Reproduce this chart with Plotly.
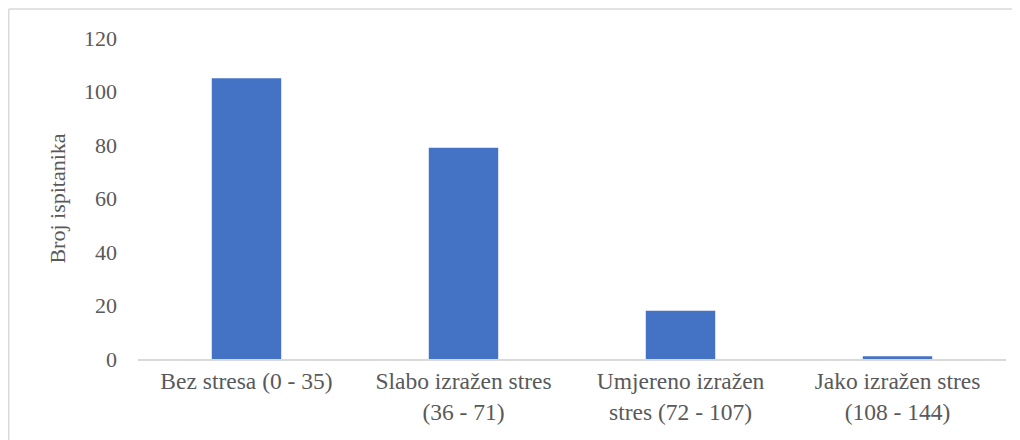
import plotly.graph_objects as go

categories = ["Bez stresa (0 - 35)", "Slabo izražen stres<br>(36 - 71)",
              "Umjereno izražen<br>stres (72 - 107)", "Jako izražen stres<br>(108 - 144)"]
values = [105, 79, 18, 1]
y_ticks = [0, 20, 40, 60, 80, 100, 120]

# page has an 8px body margin; compensate so the plot lands where the reference has it
OFF = 8
W, H = 1020, 440
L, R, T, B = 138 - OFF, 22, 38 - OFF, 89
pw, ph = W - L - R, H - T - B

def px(x):
    return (x - OFF - L) / pw

def py(y):
    return (H - B - (y - OFF)) / ph

fig = go.Figure(go.Bar(x=categories, y=values, marker_color="#4472C4",
                       marker_line_width=0, width=0.32))

font = dict(family="Liberation Serif", size=22, color="#595959")
xfont = dict(family="Liberation Serif", size=23.5, color="#595959")
fig.update_layout(
    width=W, height=H, margin=dict(l=L, r=R, t=T, b=B),
    paper_bgcolor="white", plot_bgcolor="white",
    font=font, showlegend=False,
    xaxis=dict(showline=True, linecolor="#d9d9d9", linewidth=1.5, ticks="",
               showgrid=False, tickfont=xfont),
    yaxis=dict(range=[0, 120], tickvals=y_ticks, showgrid=False, zeroline=False,
               showline=False, ticks="", tickfont=font, ticklen=0,
               ticklabelstandoff=20,
               title=dict(text="Broj ispitanika", font=font, standoff=12)),
)
fig.add_shape(type="line", xref="paper", yref="paper", x0=px(8.7), x1=px(W + 20),
              y0=py(9), y1=py(9), line=dict(color="#d9d9d9", width=1.5))
fig.add_shape(type="line", xref="paper", yref="paper", x0=px(8.7), x1=px(8.7),
              y0=py(9), y1=py(H + 20), line=dict(color="#d9d9d9", width=1.5))
fig.write_html("out.html")
